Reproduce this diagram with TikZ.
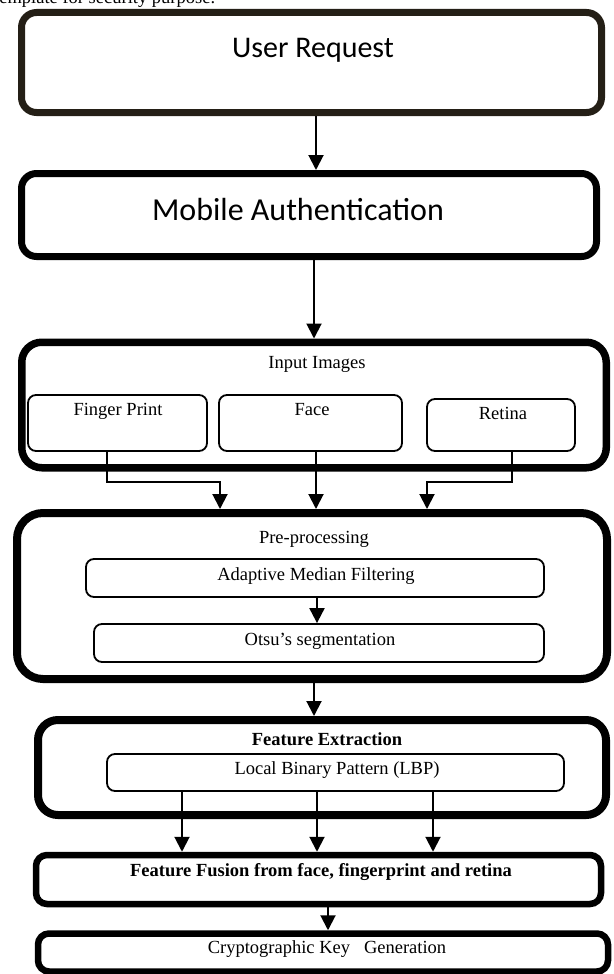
\documentclass[tikz,border=0pt]{standalone}
\usepackage{fontspec}
\setmainfont{Liberation Serif}
\newfontfamily\calib{Carlito}
\usetikzlibrary{arrows.meta}
\definecolor{darkbrown}{RGB}{36,31,22}
\begin{document}
\begin{tikzpicture}[x=1pt,y=-1pt,
  bigbox/.style={draw, line width=#1, rounded corners=15pt, inner sep=0pt},
  smallbox/.style={draw, line width=1.8pt, rounded corners=8pt, inner sep=0pt},
  arr/.style={line width=2pt, -{Triangle[width=15pt,length=15pt]}},
  cal/.style={font=\calib\fontsize{30}{36}\selectfont, anchor=base, inner sep=0pt},
  calbig/.style={font=\calib\fontsize{32}{38}\selectfont, anchor=base, inner sep=0pt},
  tms/.style={font=\fontsize{18.5}{22}\selectfont, anchor=base, inner sep=0pt},
  tmsb/.style={font=\bfseries\fontsize{18.5}{22}\selectfont, anchor=base, inner sep=0pt},
]
\useasboundingbox (0,0) rectangle (613,974);
\clip (0,0) rectangle (613,974);

% partial caption line at the very top (cut off in the reference)
\node[tms, anchor=base west] (cap) at (-6,4) {template for security purpose.};

% big boxes
\node[bigbox=7pt, draw=darkbrown, minimum width=580pt, minimum height=100pt] (ur) at (311.5,62.5) {};
\node[bigbox=7pt, minimum width=575pt, minimum height=83pt] (ma) at (309,215) {};
\node[bigbox=7.5pt, rounded corners=20pt, minimum width=584.5pt, minimum height=125.5pt] (ii) at (314,405) {};
\node[bigbox=8pt, rounded corners=26pt, minimum width=590pt, minimum height=166pt] (pre) at (312,596) {};
\node[bigbox=8pt, rounded corners=20pt, minimum width=568pt, minimum height=95pt] (fe) at (322,767.5) {};
\node[bigbox=6.5pt, rounded corners=11pt, minimum width=565pt, minimum height=49pt] (ff) at (318.5,879.5) {};
\node[bigbox=6.5pt, rounded corners=11pt, minimum width=570pt, minimum height=38pt] (ck) at (323,952.5) {};

% inner boxes
\node[smallbox, minimum width=179pt, minimum height=56pt] (fp) at (117.5,423) {};
\node[smallbox, minimum width=183pt, minimum height=56pt] (fc) at (310.5,423) {};
\node[smallbox, minimum width=148pt, minimum height=52pt] (rt) at (501,425) {};
\node[smallbox, minimum width=458pt, minimum height=38pt] (amf) at (315,578) {};
\node[smallbox, minimum width=450pt, minimum height=38pt] (ot) at (319,643) {};
\node[smallbox, minimum width=457pt, minimum height=37pt] (lbp) at (335.5,772.5) {};

% texts
\node[cal] (tur) at (313,58) {User Request};
\node[calbig] (tma) at (298,220.5) {Mobile Authentication};
\node[tms] (tii) at (317,368.5) {Input Images};
\node[tms] (tfp) at (118,415.5) {Finger Print};
\node[tms] (tfc) at (312,415) {Face};
\node[tms] (trt) at (503,419.5) {Retina};
\node[tms] (tpre) at (314,543) {Pre-processing};
\node[tms] (tamf) at (316,580.5) {Adaptive Median Filtering};
\node[tms] (tot) at (320,645) {Otsu’s segmentation};
\node[tmsb] (tfe) at (327,745) {Feature Extraction};
\node[tms] (tlbp) at (337,774) {Local Binary Pattern (LBP)};
\node[tmsb] (tff) at (321,876) {Feature Fusion from face, fingerprint and retina};
\node[tms] (tck) at (327,953.3) {Cryptographic Key\ \ \ Generation};

% helper coordinates for connector positions
\coordinate (xa) at (316,0);
\coordinate (xb) at (314,0);
\coordinate (fpx) at (107,0);
\coordinate (bend) at (0,482);
\coordinate (p1) at (220,0);
\coordinate (fcx) at (316,0);
\coordinate (rtx) at (512,0);
\coordinate (p3) at (427,0);
\coordinate (xc) at (317,0);
\coordinate (xd) at (314,0);
\coordinate (l1) at (182,0);
\coordinate (l2) at (317,0);
\coordinate (l3) at (433,0);
\coordinate (xe) at (328,0);

% connectors
\draw[arr] (ur.south -| xa) -- (ma.north -| xa);
\draw[arr] (ma.south -| xb) -- (ii.north -| xb);
\draw[arr] (fp.south -| fpx) -- (bend -| fpx) -| (pre.north -| p1);
\draw[arr] (fc.south -| fcx) -- (pre.north -| fcx);
\draw[arr] (rt.south -| rtx) -- (bend -| rtx) -| (pre.north -| p3);
\draw[arr] (amf.south -| xc) -- (ot.north -| xc);
\draw[arr] (pre.south -| xd) -- (fe.north -| xd);
\draw[arr] (lbp.south -| l1) -- (ff.north -| l1);
\draw[arr] (lbp.south -| l2) -- (ff.north -| l2);
\draw[arr] (lbp.south -| l3) -- (ff.north -| l3);
\draw[arr] (ff.south -| xe) -- (ck.north -| xe);
\end{tikzpicture}
\end{document}
